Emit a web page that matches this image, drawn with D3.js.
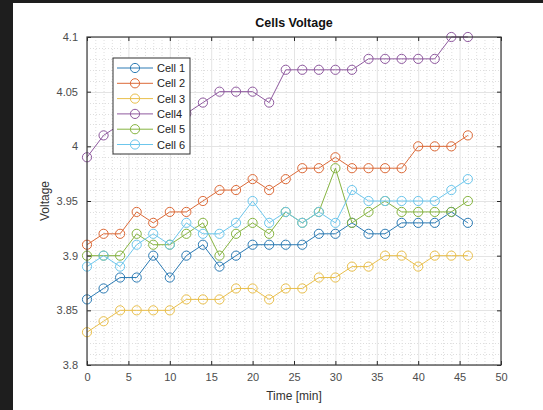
<!DOCTYPE html>
<html><head><meta charset="utf-8">
<script src="https://cdn.jsdelivr.net/npm/d3@7/dist/d3.min.js"></script>
<style>
html,body{margin:0;padding:0;background:#fff;}
svg{display:block;font-family:"Liberation Sans",Arial,Helvetica,sans-serif;}
</style></head>
<body><svg id="c" width="543" height="410"></svg>
<script>
const times = [0,2,4,6,8,10,12,14,16,18,20,22,24,26,28,30,32,34,36,38,40,42,44,46];
const seriesNames = ["Cell 1","Cell 2","Cell 3","Cell4","Cell 5","Cell 6"];
const cell1 = [3.86,3.87,3.88,3.88,3.90,3.88,3.90,3.91,3.89,3.90,3.91,3.91,3.91,3.91,3.92,3.92,3.93,3.92,3.92,3.93,3.93,3.93,3.94,3.93];
const cell2 = [3.91,3.92,3.92,3.94,3.93,3.94,3.94,3.95,3.96,3.96,3.97,3.96,3.97,3.98,3.98,3.99,3.98,3.98,3.98,3.98,4.00,4.00,4.00,4.01];
const cell3 = [3.83,3.84,3.85,3.85,3.85,3.85,3.86,3.86,3.86,3.87,3.87,3.86,3.87,3.87,3.88,3.88,3.89,3.89,3.90,3.90,3.89,3.90,3.90,3.90];
const cell4 = [3.99,4.01,4.02,4.02,4.03,4.03,4.03,4.04,4.05,4.05,4.05,4.04,4.07,4.07,4.07,4.07,4.07,4.08,4.08,4.08,4.08,4.08,4.10,4.10];
const cell5 = [3.90,3.90,3.90,3.92,3.91,3.91,3.92,3.93,3.90,3.92,3.93,3.92,3.94,3.93,3.94,3.98,3.93,3.94,3.95,3.94,3.94,3.94,3.94,3.95];
const cell6 = [3.89,3.90,3.89,3.91,3.92,3.91,3.93,3.92,3.92,3.93,3.95,3.93,3.94,3.93,3.94,3.93,3.96,3.95,3.95,3.95,3.95,3.95,3.96,3.97];
const xTicks = [0,5,10,15,20,25,30,35,40,45,50];
const yTicks = [3.8,3.85,3.9,3.95,4.0,4.05,4.1];
const yTickLabels = ["3.8","3.85","3.9","3.95","4","4.05","4.1"];
const colors = ["#2c7bb4","#dc6a38","#e9bf4c","#8f5a9f","#86b441","#6cc6ec"];
const allSeries = [cell1,cell2,cell3,cell4,cell5,cell6];

const svg = d3.select("#c");
svg.append("rect").attr("x",0).attr("y",0).attr("width",543).attr("height",410).attr("fill","#fff");
svg.append("rect").attr("x",0).attr("y",0).attr("width",13).attr("height",410).attr("fill","#1e1e1e");
svg.append("rect").attr("x",0).attr("y",0).attr("width",543).attr("height",3).attr("fill","#1e1e1e");

const L=87,R=501,T=37,B=365;
const x = d3.scaleLinear().domain([0,50]).range([L,R]);
const y = d3.scaleLinear().domain([3.8,4.1]).range([B,T]);

const g = svg.append("g");
const xMinor = d3.range(0,51,1).filter(v=>v%5!==0);
const yMinor = d3.range(380,411,1).map(v=>v/100).filter(v=>Math.round(v*100)%5!==0);
g.selectAll(".xm").data(xMinor).enter().append("line")
 .attr("x1",d=>x(d)+0.5).attr("x2",d=>x(d)+0.5).attr("y1",T).attr("y2",B)
 .attr("stroke","#dedede").attr("stroke-width",1).attr("stroke-dasharray","1,2");
g.selectAll(".ym").data(yMinor).enter().append("line")
 .attr("y1",d=>Math.round(y(d))+0.5).attr("y2",d=>Math.round(y(d))+0.5).attr("x1",L).attr("x2",R)
 .attr("stroke","#dedede").attr("stroke-width",1).attr("stroke-dasharray","1,2");
g.selectAll(".xg").data(xTicks).enter().append("line")
 .attr("x1",d=>x(d)+0.5).attr("x2",d=>x(d)+0.5).attr("y1",T).attr("y2",B)
 .attr("stroke","#e4e4e4").attr("stroke-width",1);
g.selectAll(".yg").data(yTicks).enter().append("line")
 .attr("y1",d=>Math.round(y(d))+0.5).attr("y2",d=>Math.round(y(d))+0.5).attr("x1",L).attr("x2",R)
 .attr("stroke","#e4e4e4").attr("stroke-width",1);

const line = d3.line().x((d,i)=>x(times[i])).y(d=>y(d));
allSeries.forEach((s,k)=>{
  const sg = svg.append("g");
  sg.append("path").datum(s).attr("d",line).attr("fill","none").attr("stroke",colors[k]).attr("stroke-width",1);
  sg.selectAll("circle").data(s).enter().append("circle")
    .attr("cx",(d,i)=>x(times[i])).attr("cy",d=>y(d)).attr("r",4.6)
    .attr("fill","none").attr("stroke",colors[k]).attr("stroke-width",1);
});

const axisColor="#262626";
const xb = svg.append("g").attr("transform",`translate(0,${B})`)
 .call(d3.axisBottom(x).tickValues(xTicks).tickSizeInner(-4).tickSizeOuter(0).tickPadding(8));
const xt = svg.append("g").attr("transform",`translate(0,${T})`)
 .call(d3.axisTop(x).tickValues(xTicks).tickSizeInner(-4).tickSizeOuter(0).tickFormat(""));
const yl = svg.append("g").attr("transform",`translate(${L},0)`)
 .call(d3.axisLeft(y).tickValues(yTicks).tickSizeInner(-4).tickSizeOuter(0).tickPadding(9)
   .tickFormat((d,i)=>yTickLabels[i]));
const yr = svg.append("g").attr("transform",`translate(${R},0)`)
 .call(d3.axisRight(y).tickValues(yTicks).tickSizeInner(-4).tickSizeOuter(0).tickFormat(""));
[xb,xt,yl,yr].forEach(a=>{
  a.select(".domain").remove();
  a.selectAll("line").attr("stroke",axisColor);
  a.selectAll("text").attr("fill","#4d4d4d").style("font-size","11px").style("font-family","'Liberation Sans',Arial,sans-serif");
});
svg.append("rect").attr("x",L).attr("y",T).attr("width",R-L).attr("height",B-T)
 .attr("fill","none").attr("stroke","#3a3a3a").attr("stroke-width",1.2);

svg.append("text").attr("x",(L+R)/2).attr("y",27).attr("text-anchor","middle")
 .style("font-size","12.5px").style("font-weight","bold").attr("fill","#111").text("Cells Voltage");
svg.append("text").attr("x",(L+R)/2).attr("y",400).attr("text-anchor","middle")
 .style("font-size","12px").attr("fill","#333").text("Time [min]");
svg.append("text").attr("transform",`translate(49,${(T+B)/2}) rotate(-90)`).attr("text-anchor","middle")
 .style("font-size","12px").attr("fill","#333").text("Voltage");

const lg = svg.append("g").attr("transform","translate(113,58)");
lg.append("rect").attr("x",0).attr("y",0).attr("width",77).attr("height",96)
 .attr("fill","#fff").attr("stroke","#333").attr("stroke-width",1);
seriesNames.forEach((n,k)=>{
  const yy = 10 + k*15.3;
  lg.append("line").attr("x1",4).attr("x2",40).attr("y1",yy).attr("y2",yy).attr("stroke",colors[k]).attr("stroke-width",1);
  lg.append("circle").attr("cx",22).attr("cy",yy).attr("r",4.6).attr("fill","none").attr("stroke",colors[k]).attr("stroke-width",1);
  lg.append("text").attr("x",44).attr("y",yy+4).style("font-size","11px").attr("fill","#222").text(n);
});
</script></body></html>
